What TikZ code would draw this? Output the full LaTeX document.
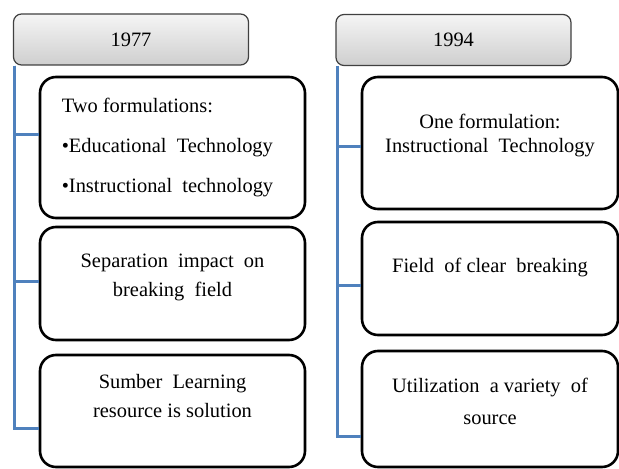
\documentclass[tikz,border=0pt]{standalone}
\usepackage{fontspec}
\setmainfont{Liberation Serif}
\usetikzlibrary{positioning}
\definecolor{spineblue}{RGB}{79,129,189}

\tikzset{
  yearbox/.style={draw=black!75, line width=1.2bp, rounded corners=8bp,
    top color=gray!8, bottom color=gray!38, minimum width=235bp,
    minimum height=51bp, font=\fontsize{20.5}{24}\selectfont},
  itembox/.style={draw=black, line width=2.6bp, rounded corners=16bp},
  itemtext/.style={font=\fontsize{20.5}{29}\selectfont, align=center},
  spine/.style={draw=spineblue, line width=3bp}
}

\begin{document}
\begin{tikzpicture}[x=1bp,y=-1bp]
		\useasboundingbox (0,0) rectangle (619,469);
		% year headers
		\node[yearbox] (h77) at (131,39.5) {1977};
		\node[yearbox] (h94) at (453.5,40) {1994};
		% boxes of 1977
		\node[itembox, minimum width=265bp, minimum height=141bp] (l1) at (172.5,147.5) {};
		\node[itembox, minimum width=265bp, minimum height=113bp] (l2) at (172.5,283.5) {};
		\node[itembox, minimum width=265bp, minimum height=112bp] (l3) at (172.5,411) {};
		% boxes of 1994
		\node[itembox, minimum width=256bp, minimum height=132bp] (r1) at (490,143) {};
		\node[itembox, minimum width=256bp, minimum height=113bp] (r2) at (490,278.5) {};
		\node[itembox, minimum width=256bp, minimum height=116bp] (r3) at (490,409) {};
		% texts
		\node[itemtext, align=left, font=\fontsize{20.5}{40}\selectfont] (tl1) at ([xshift=-5bp]l1.center) {Two formulations:\\
			•Educational\ \ Technology\\
			•Instructional\ \ technology};
		\node[itemtext] (tl2) at ([yshift=6.5bp]l2.center) {Separation\ \ impact\ \ on\\breaking\ \ field};
		\node[itemtext] (tl3) at ([yshift=15bp]l3.center) {Sumber\ \ Learning\\resource is solution};
		\node[itemtext, font=\fontsize{20.5}{25}\selectfont] (tr1) at ([yshift=7.5bp]r1.center) {One formulation:\\Instructional\ \ Technology};
		\node[itemtext] (tr2) at ([yshift=10.5bp]r2.center) {Field\ \ of clear\ \ breaking};
		\node[itemtext, font=\fontsize{20.5}{32}\selectfont] (tr3) at ([yshift=8bp]r3.center) {Utilization\ \ a variety\ \ of\\source};
		% blue connectors
		\draw[spine] ([xshift=2bp]h77.south west) |- ([yshift=12.5bp]l1.west);
		\draw[spine] ([xshift=2bp]h77.south west) |- ([yshift=1.5bp]l2.west);
		\draw[spine] ([xshift=2bp]h77.south west) |- ([yshift=-17bp]l3.west);
		\draw[spine] ([xshift=2bp]h94.south west) |- ([yshift=-4bp]r1.west);
		\draw[spine] ([xshift=2bp]h94.south west) |- ([yshift=-6.5bp]r2.west);
		\draw[spine] ([xshift=2bp]h94.south west) |- ([yshift=-27bp]r3.west);
	\end{tikzpicture}
\end{document}
